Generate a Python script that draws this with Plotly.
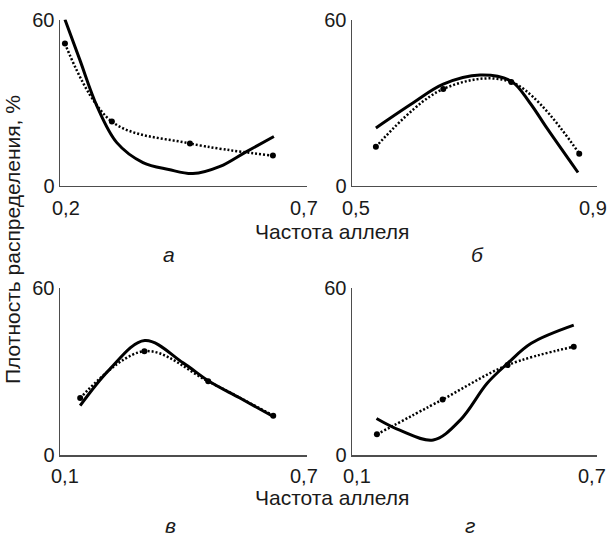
import plotly.graph_objects as go

# ---- data ----
# panel а
a_dot_x = [0.21, 0.305, 0.463, 0.631]
a_dot_y = [51.3, 23.1, 15.2, 10.8]
a_sol_x = [0.21, 0.24, 0.275, 0.315, 0.368, 0.42, 0.469, 0.524, 0.574, 0.633]
a_sol_y = [60.0, 45.5, 28.6, 15.5, 8.3, 5.8, 4.3, 6.9, 11.9, 17.7]
# panel б
b_dot_x = [0.539, 0.649, 0.760, 0.871]
b_dot_y = [14.0, 34.9, 37.4, 11.5]
b_sol_x = [0.539, 0.60, 0.649, 0.709, 0.760, 0.79, 0.818, 0.869]
b_sol_y = [20.8, 29.9, 36.6, 39.9, 37.7, 30.0, 20.8, 4.7]
# panel в
v_dot_x = [0.149, 0.305, 0.460, 0.618]
v_dot_y = [20.4, 37.2, 26.4, 14.1]
v_sol_x = [0.149, 0.22, 0.306, 0.399, 0.460, 0.537, 0.618]
v_sol_y = [17.7, 30.6, 41.0, 33.0, 26.6, 20.4, 13.8]
# panel г
g_dot_x = [0.161, 0.322, 0.481, 0.643]
g_dot_y = [7.4, 19.9, 32.2, 38.8]
g_sol_x = [0.160, 0.217, 0.299, 0.365, 0.431, 0.481, 0.539, 0.643]
g_sol_y = [13.1, 8.9, 5.4, 12.5, 25.7, 32.8, 40.0, 46.5]

x_ranges = [[0.2, 0.7], [0.5, 0.9], [0.1, 0.7], [0.1, 0.7]]
x_ticktext = [["0,2", "0,7"], ["0,5", "0,9"], ["0,1", "0,7"], ["0,1", "0,7"]]
y_range = [0, 60]
y_ticktext = ["0", "60"]
panel_letters = ["а", "б", "в", "г"]
y_title = "Плотность распределения, %"
x_title = "Частота аллеля"

panels = [
    (a_dot_x, a_dot_y, a_sol_x, a_sol_y),
    (b_dot_x, b_dot_y, b_sol_x, b_sol_y),
    (v_dot_x, v_dot_y, v_sol_x, v_sol_y),
    (g_dot_x, g_dot_y, g_sol_x, g_sol_y),
]

W, H = 607, 539
FONT = "Liberation Sans, Arial, sans-serif"
TXT = "#1a1a1a"
AX = "#4d4d4d"

xdom = [[60 / W, 307 / W], [352 / W, 597 / W], [60 / W, 307 / W], [352 / W, 597 / W]]
ytop = [1 - 185.5 / H, 1 - 19.5 / H]
ybot = [1 - 455 / H, 1 - 287.5 / H]
ydom = [ytop, ytop, ybot, ybot]
xlabel_ypx = [207.5, 207.5, 475.5, 475.5]
xlabel_shift = [[6, -3], [4, -4], [5, -3], [5, -5]]

fig = go.Figure()
layout = {}
annotations = []
for i, (dx, dy, sx, sy) in enumerate(panels):
    n = "" if i == 0 else str(i + 1)
    xa, ya = "x" + n, "y" + n
    fig.add_trace(go.Scatter(x=sx, y=sy, xaxis=xa, yaxis=ya, mode="lines",
                             line=dict(color="black", width=3, shape="spline", smoothing=1.0),
                             showlegend=False, hoverinfo="skip"))
    fig.add_trace(go.Scatter(x=dx, y=dy, xaxis=xa, yaxis=ya, mode="lines+markers",
                             line=dict(color="black", width=2.5, dash="2px,2px", shape="spline", smoothing=1.0),
                             marker=dict(color="black", size=6),
                             showlegend=False, hoverinfo="skip", cliponaxis=False))
    common = dict(showgrid=False, zeroline=False, showline=True, linecolor=AX, linewidth=1.5,
                  ticks="inside", ticklen=6, tickwidth=1.5, tickcolor=AX,
                  tickfont=dict(family=FONT, size=20, color=TXT), automargin=False, fixedrange=True)
    layout["xaxis" + n] = dict(domain=xdom[i], range=x_ranges[i], anchor=ya,
                               tickvals=x_ranges[i], showticklabels=False, **common)
    layout["yaxis" + n] = dict(domain=ydom[i], range=y_range, anchor=xa,
                               tickvals=y_range, ticktext=y_ticktext, **common)
    # x tick labels, anchored at the axis values
    for v, t, s in zip(x_ranges[i], x_ticktext[i], xlabel_shift[i]):
        annotations.append(dict(text=t, x=v, xref=xa, y=1 - xlabel_ypx[i] / H, yref="paper",
                                xshift=s, showarrow=False, xanchor="center", yanchor="middle",
                                font=dict(family=FONT, size=20, color=TXT)))

other = [
    dict(text=y_title, x=12 / W, y=1 - 240 / H, textangle=-90, yanchor="middle"),
    dict(text=x_title, x=332 / W, y=1 - 231 / H, yanchor="middle"),
    dict(text=x_title, x=332 / W, y=1 - 497 / H, yanchor="middle"),
    dict(text="<i>" + panel_letters[0] + "</i>", x=169 / W, y=1 - 254 / H, yanchor="middle"),
    dict(text="<i>" + panel_letters[1] + "</i>", x=477 / W, y=1 - 255 / H, yanchor="middle"),
    dict(text="<i>" + panel_letters[2] + "</i>", x=170 / W, y=0, yanchor="bottom"),
    dict(text="<i>" + panel_letters[3] + "</i>", x=470 / W, y=0, yanchor="bottom"),
]
for a in other:
    a.update(xref="paper", yref="paper", showarrow=False, xanchor="center",
             font=dict(family=FONT, size=21, color=TXT))
annotations += other

fig.update_layout(width=W, height=H, margin=dict(l=0, r=0, t=0, b=0),
                  paper_bgcolor="white", plot_bgcolor="white",
                  annotations=annotations, **layout)
fig.write_html("out.html", config={"displayModeBar": False, "staticPlot": True},
               post_script="document.body.style.margin='0';document.body.style.padding='0';"
                           "document.body.style.overflow='hidden';")
